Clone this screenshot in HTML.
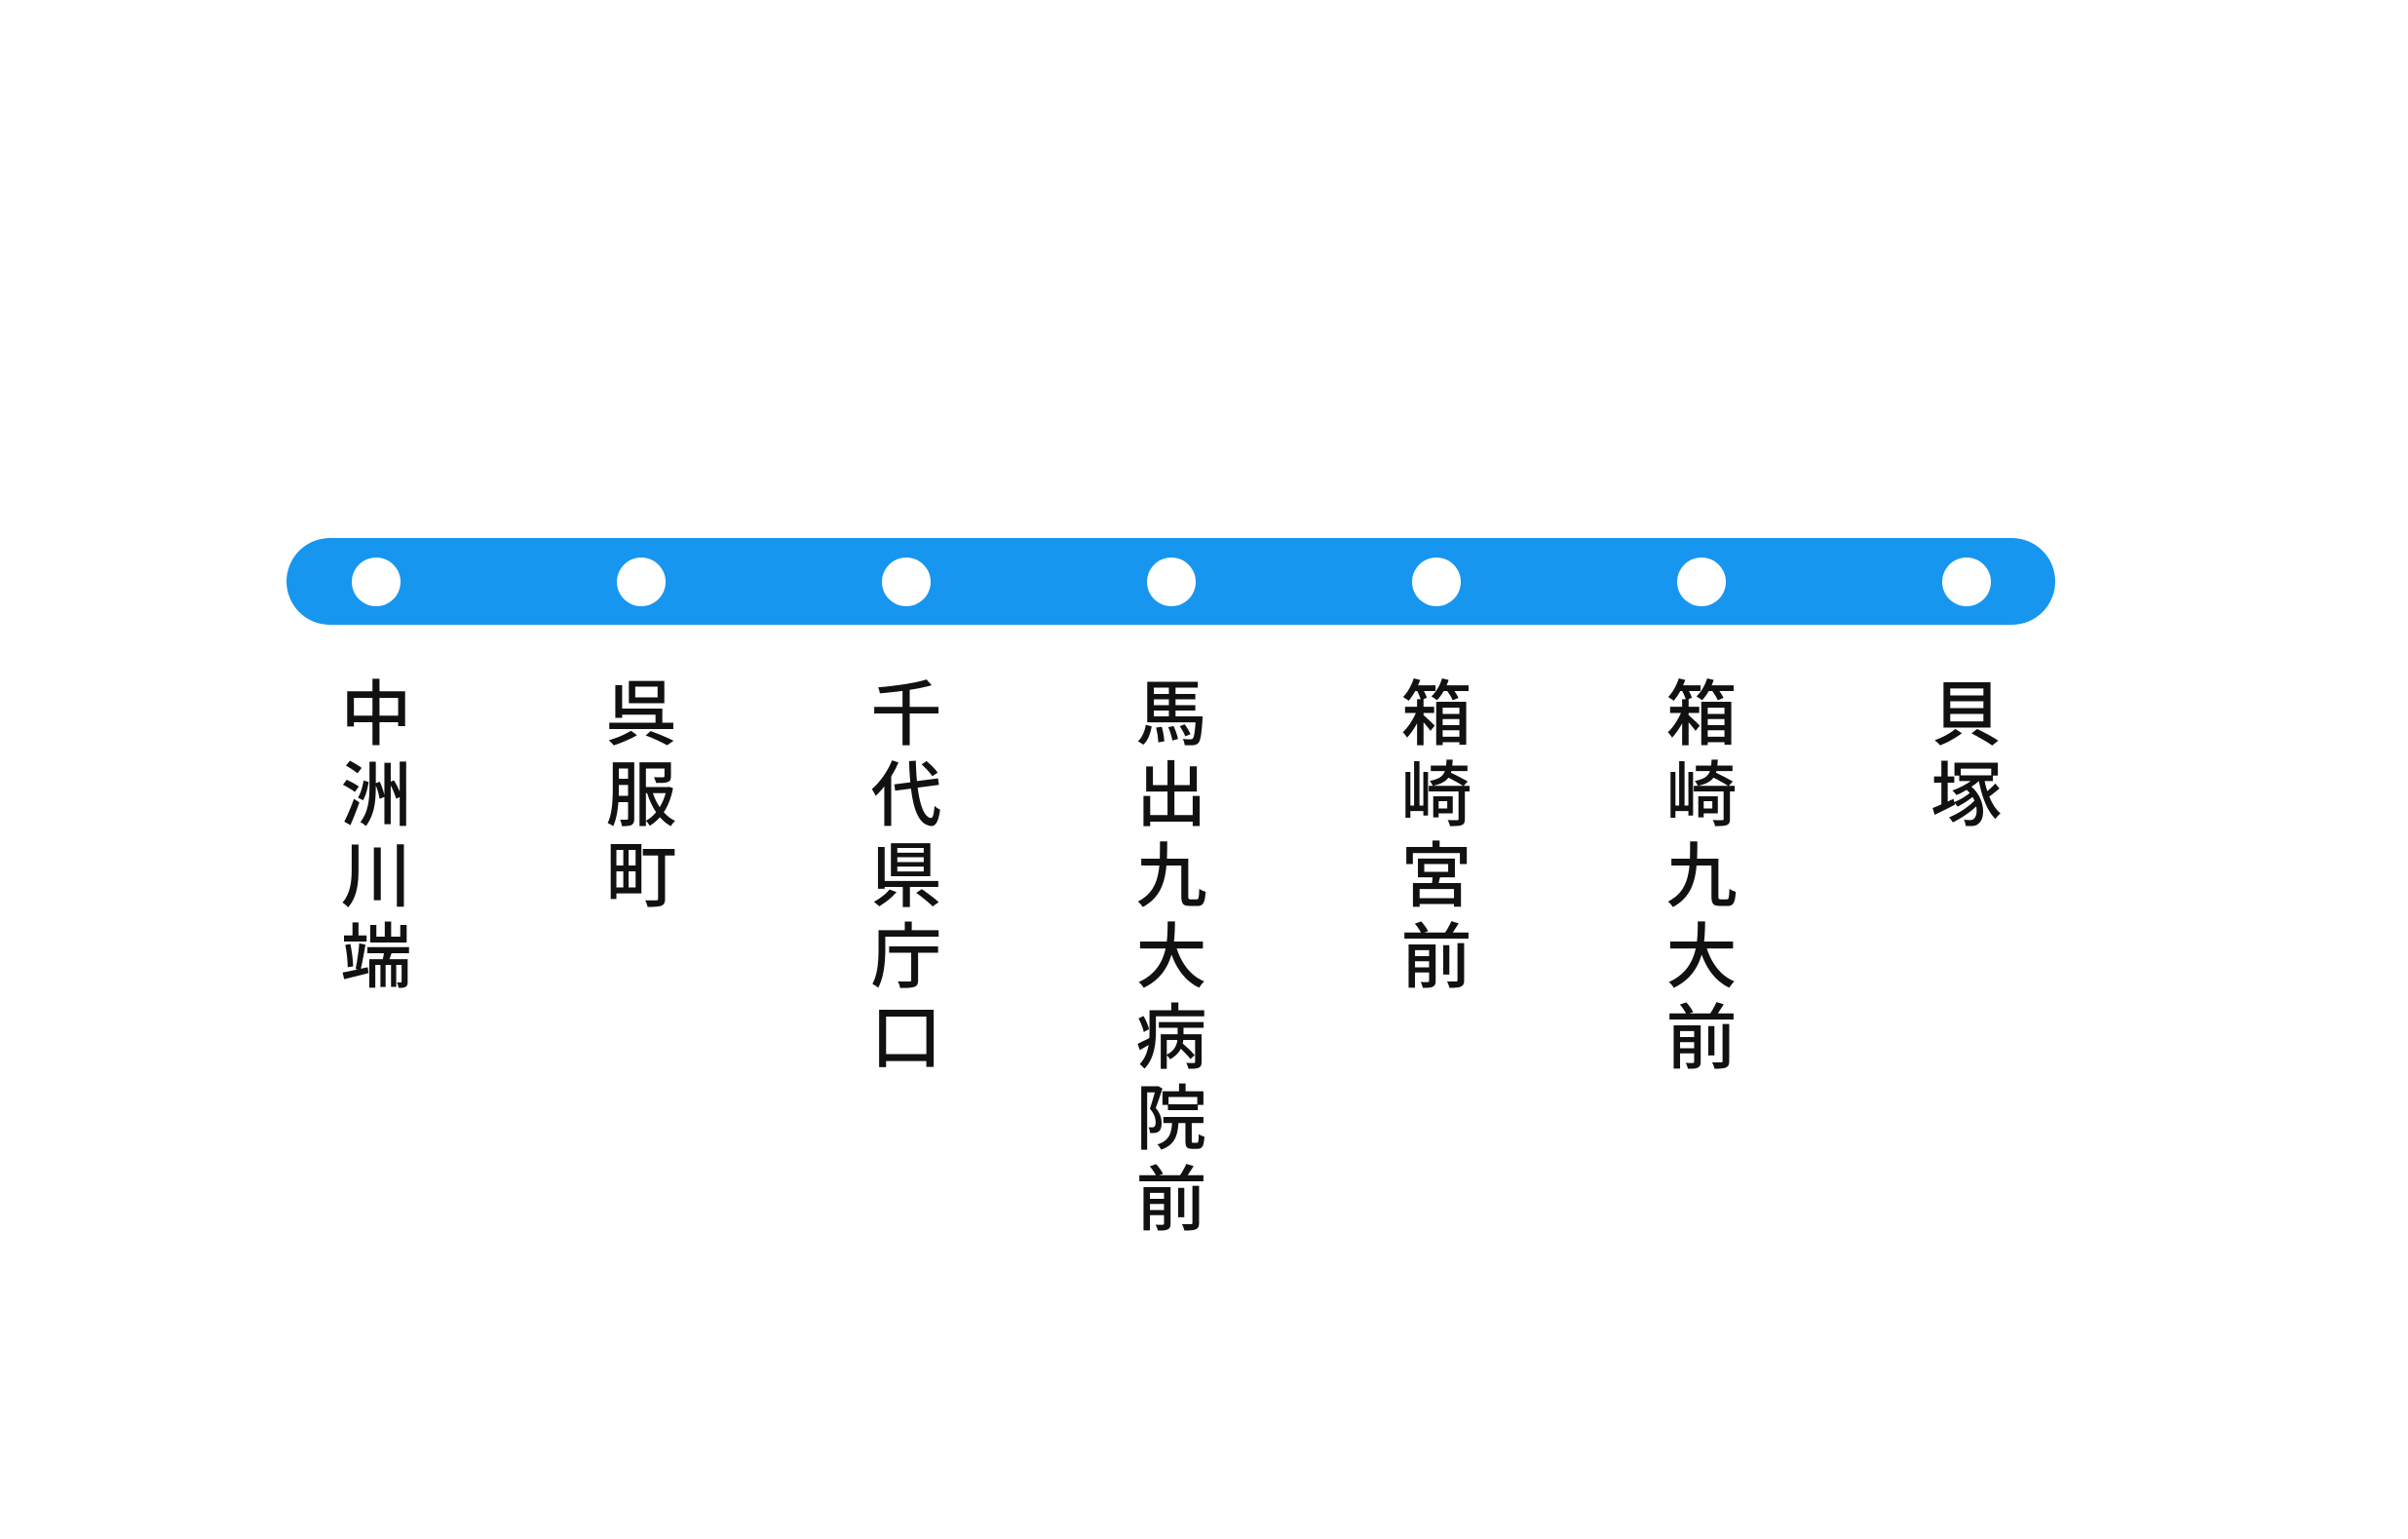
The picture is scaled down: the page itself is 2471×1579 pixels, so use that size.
<!DOCTYPE html>
<html><head><meta charset="utf-8"><style>
body{margin:0;width:2471px;height:1579px;background:#fff;position:relative;overflow:hidden}
.bar{position:absolute;left:294px;top:552px;width:1815px;height:89px;border-radius:45px;background:#1796F0}
.c{position:absolute;width:50px;height:50px;border-radius:50%;background:#fff;top:572px}
.t{position:absolute;top:686px;width:100px;text-align:center;font-family:"Noto Sans CJK JP",sans-serif;font-size:73px;font-weight:500;line-height:83px;color:#111}
</style></head><body>
<div class="bar"></div>
<div class="c" style="left:361px"></div>
<div class="c" style="left:633px"></div>
<div class="c" style="left:905px"></div>
<div class="c" style="left:1177px"></div>
<div class="c" style="left:1449px"></div>
<div class="c" style="left:1721px"></div>
<div class="c" style="left:1993px"></div>
<div class="t" style="left:336px">中<br>洲<br>川<br>端</div>
<div class="t" style="left:608px">呉<br>服<br>町</div>
<div class="t" style="left:880px">千<br>代<br>県<br>庁<br>口</div>
<div class="t" style="left:1152px">馬<br>出<br>九<br>大<br>病<br>院<br>前</div>
<div class="t" style="left:1424px">箱<br>崎<br>宮<br>前</div>
<div class="t" style="left:1696px">箱<br>崎<br>九<br>大<br>前</div>
<div class="t" style="left:1968px">貝<br>塚</div>
</body></html>
